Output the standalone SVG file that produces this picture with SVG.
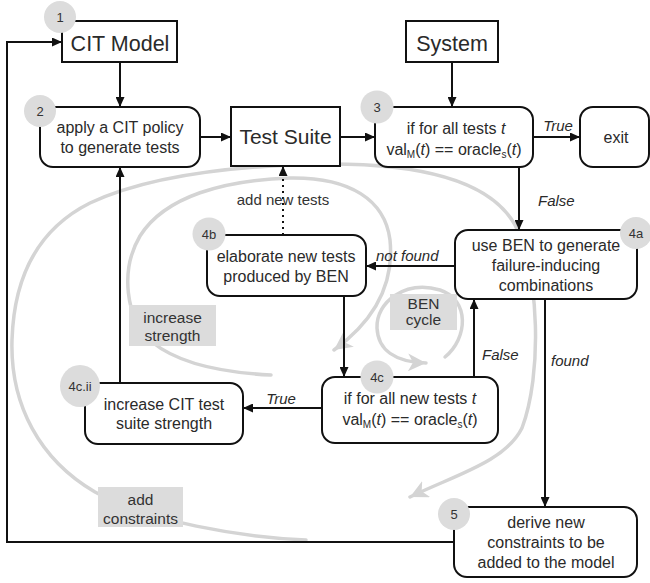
<svg xmlns="http://www.w3.org/2000/svg" width="650" height="583" viewBox="0 0 650 583">
<style>
text{font-family:"Liberation Sans",Arial,sans-serif;fill:#2a2a2a}
.t16{font-size:16px;text-anchor:middle}
.big{font-size:21.5px;text-anchor:middle}
.num{font-size:13px;text-anchor:middle;fill:#333}
.lbl{font-size:15px;font-style:italic}
.glbl{font-size:15.5px;text-anchor:middle;fill:#333}
.box{fill:#fff;stroke:#111;stroke-width:2}
.badge{fill:#dcdcdc}
.gbox{fill:#dcdcdc}
.conn{fill:none;stroke:#111;stroke-width:2}
.spiral{fill:none;stroke:#d4d4d4;stroke-width:3.5;stroke-linecap:round}
.sub{font-size:10px}
.it{font-style:italic}
</style>
<defs>
<marker id="arr" markerUnits="userSpaceOnUse" markerWidth="10" markerHeight="9" refX="10" refY="4.5" orient="auto">
<path d="M0,0 L10,4.5 L0,9 z" fill="#111"/>
</marker>
<marker id="garr" markerUnits="userSpaceOnUse" markerWidth="20" markerHeight="18" refX="18" refY="9" orient="auto">
<path d="M0,0 L18,9 L0,18 L5,9 z" fill="#d4d4d4"/>
</marker>
</defs>

<g id="spirals">
<path class="spiral" marker-end="url(#garr)" d="M306,540 C240,537 150,522 95,492 C40,460 10,405 12,340 C14,275 40,228 90,203 C150,175 240,165 330,164 C420,164 490,180 515,225 C540,275 542,375 522,428 C505,462 455,475 410,497"/>
<path class="spiral" marker-end="url(#garr)" d="M271,375 C230,373 180,365 152,342 C125,318 120,270 140,236 C165,196 225,180 290,178 C350,177 385,200 390,240 C394,280 378,318 334,350"/>
<path class="spiral" marker-end="url(#garr)" d="M445,357 C468,338 470,300 440,290 C405,280 376,302 377,328 C378,350 395,362 426,363"/>
</g>

<g id="gray-labels">
<rect class="gbox" x="129" y="305" width="87" height="41"/>
<text class="glbl" x="172.5" y="323">increase</text>
<text class="glbl" x="172.5" y="341">strength</text>
<rect class="gbox" x="390" y="294" width="67" height="36"/>
<text class="glbl" x="423.5" y="309">BEN</text>
<text class="glbl" x="423.5" y="325">cycle</text>
<rect class="gbox" x="98" y="487" width="85" height="40"/>
<text class="glbl" x="140.5" y="505">add</text>
<text class="glbl" x="140.5" y="524">constraints</text>
</g>

<g id="connectors">
<line class="conn" x1="120" y1="62" x2="120" y2="107" marker-end="url(#arr)"/>
<line class="conn" x1="452" y1="62" x2="452" y2="107" marker-end="url(#arr)"/>
<line class="conn" x1="200" y1="137" x2="231" y2="137" marker-end="url(#arr)"/>
<line class="conn" x1="340" y1="137" x2="375" y2="137" marker-end="url(#arr)"/>
<line class="conn" x1="533" y1="137" x2="580" y2="137" marker-end="url(#arr)"/>
<text class="lbl" x="558" y="131" text-anchor="middle">True</text>
<line class="conn" x1="519" y1="167" x2="519" y2="230" marker-end="url(#arr)"/>
<text class="lbl" x="538" y="206">False</text>
<line class="conn" x1="455" y1="266" x2="366" y2="266" marker-end="url(#arr)"/>
<text class="lbl" x="376" y="261">not found</text>
<line class="conn" x1="283" y1="235" x2="283" y2="166" stroke-dasharray="2,4" marker-end="url(#arr)"/>
<text x="283" y="205" text-anchor="middle" style="font-size:15px;fill:#333">add new tests</text>
<line class="conn" x1="344" y1="296" x2="344" y2="377" marker-end="url(#arr)"/>
<line class="conn" x1="474" y1="377" x2="474" y2="299" marker-end="url(#arr)"/>
<text class="lbl" x="482" y="360">False</text>
<line class="conn" x1="322" y1="408" x2="243" y2="408" marker-end="url(#arr)"/>
<text class="lbl" x="281" y="404" text-anchor="middle">True</text>
<line class="conn" x1="120" y1="383" x2="120" y2="167" marker-end="url(#arr)"/>
<line class="conn" x1="545" y1="299" x2="545" y2="507" marker-end="url(#arr)"/>
<text class="lbl" x="551" y="366">found</text>
<polyline class="conn" points="454,542 7,542 7,42 62,42" marker-end="url(#arr)"/>
</g>

<g id="node-1">
<rect class="box" x="62" y="21" width="115" height="41"/>
<circle class="badge" cx="60" cy="17" r="16"/>
<text class="num" x="60" y="22">1</text>
<text class="big" x="120" y="51">CIT Model</text>
</g>

<g id="node-system">
<rect class="box" x="406" y="21" width="92" height="41"/>
<text class="big" x="452" y="51">System</text>
</g>

<g id="node-2">
<rect class="box" x="40" y="107" width="160" height="60" rx="13"/>
<circle class="badge" cx="40" cy="111" r="16"/>
<text class="num" x="40" y="116">2</text>
<text class="t16" x="120" y="133">apply a CIT policy</text>
<text class="t16" x="120" y="153">to generate tests</text>
</g>

<g id="node-testsuite">
<rect class="box" x="231" y="107" width="109" height="59"/>
<text class="big" x="285.5" y="144" style="font-size:21px">Test Suite</text>
</g>

<g id="node-3">
<rect class="box" x="375" y="107" width="158" height="60" rx="13"/>
<circle class="badge" cx="377" cy="107" r="16.5"/>
<text class="num" x="377" y="112">3</text>
<text class="t16" x="456" y="134">if for all tests <tspan class="it">t</tspan></text>
<text class="t16" x="454" y="155">val<tspan class="sub" dy="3">M</tspan><tspan dy="-3">(</tspan><tspan class="it">t</tspan>) == oracle<tspan class="sub" dy="3">s</tspan><tspan dy="-3">(</tspan><tspan class="it">t</tspan>)</text>
</g>

<g id="node-exit">
<rect class="box" x="580" y="107" width="69" height="60" rx="13"/>
<text class="t16" x="616" y="143">exit</text>
</g>

<g id="node-4a">
<rect class="box" x="455" y="230" width="182" height="69" rx="13"/>
<circle class="badge" cx="636" cy="233" r="16"/>
<text class="num" x="636" y="238">4a</text>
<text class="t16" x="546" y="251">use BEN to generate</text>
<text class="t16" x="546" y="271">failure-inducing</text>
<text class="t16" x="546" y="291">combinations</text>
</g>

<g id="node-4b">
<rect class="box" x="207" y="235" width="159" height="61" rx="13"/>
<circle class="badge" cx="209" cy="234" r="16.5"/>
<text class="num" x="209" y="239">4b</text>
<text class="t16" x="286" y="262">elaborate new tests</text>
<text class="t16" x="286" y="282">produced by BEN</text>
</g>

<g id="node-4c">
<rect class="box" x="322" y="377" width="176" height="66" rx="13"/>
<circle class="badge" cx="377" cy="377" r="16.5"/>
<text class="num" x="377" y="382">4c</text>
<text class="t16" x="410" y="404">if for all new tests <tspan class="it">t</tspan></text>
<text class="t16" x="410" y="425">val<tspan class="sub" dy="3">M</tspan><tspan dy="-3">(</tspan><tspan class="it">t</tspan>) == oracle<tspan class="sub" dy="3">s</tspan><tspan dy="-3">(</tspan><tspan class="it">t</tspan>)</text>
</g>

<g id="node-4cii">
<rect class="box" x="85" y="383" width="158" height="61" rx="13"/>
<ellipse class="badge" cx="80" cy="386" rx="20" ry="21"/>
<text class="num" x="80" y="391">4c.ii</text>
<text class="t16" x="164" y="410">increase CIT test</text>
<text class="t16" x="164" y="429">suite strength</text>
</g>

<g id="node-5">
<rect class="box" x="454" y="507" width="183" height="70" rx="13"/>
<circle class="badge" cx="454" cy="514" r="16"/>
<text class="num" x="454" y="519">5</text>
<text class="t16" x="546" y="528">derive new</text>
<text class="t16" x="546" y="548">constraints to be</text>
<text class="t16" x="546" y="568">added to the model</text>
</g>
</svg>
